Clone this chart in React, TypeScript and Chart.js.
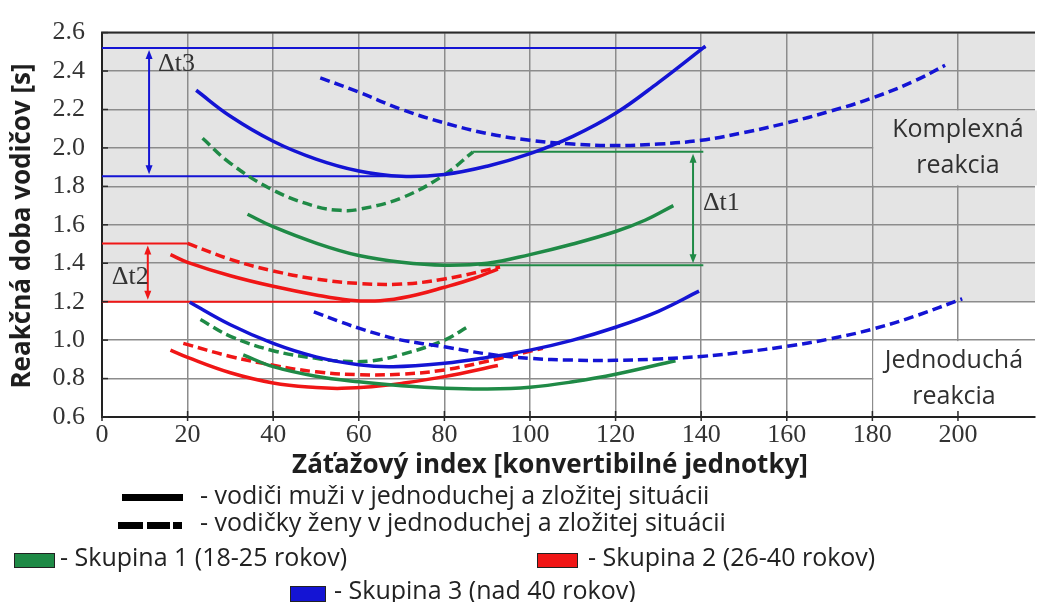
import React, { useEffect, useRef } from "react";
import { Chart, registerables } from "chart.js";

Chart.register(...registerables);

// ---- colours -------------------------------------------------------------
const BLUE = "#1414d4";
const GREEN = "#1f8a46";
const RED = "#f01616";
const BAND_GREY = "#e4e4e4";

// ---- axis ranges / ticks -------------------------------------------------
const X_MIN = 0;
const X_MAX = 218;
const X_STEP = 20;
const Y_MIN = 0.6;
const Y_MAX = 2.6;
const Y_STEP = 0.2;
const SIMPLE_COMPLEX_BOUNDARY = 1.2;

// ---- complex reaction ----------------------------------------------------
const G1_MEN_COMPLEX_X = [34, 40, 50, 60, 70, 80, 90, 100, 110, 120, 127, 133.5];
const G1_MEN_COMPLEX_Y = [1.655, 1.59, 1.505, 1.44, 1.405, 1.39, 1.4, 1.445, 1.5, 1.565, 1.625, 1.7];
const G1_WOMEN_COMPLEX_X = [23.5, 30, 40, 50, 56, 60, 70, 80, 86.7];
const G1_WOMEN_COMPLEX_Y = [2.05, 1.92, 1.78, 1.695, 1.675, 1.68, 1.74, 1.86, 1.98];

const G2_MEN_COMPLEX_X = [16, 20, 30, 40, 50, 58, 65, 72, 80, 87, 92.5];
const G2_MEN_COMPLEX_Y = [1.445, 1.405, 1.335, 1.28, 1.235, 1.208, 1.205, 1.228, 1.275, 1.322, 1.37];
const G2_WOMEN_COMPLEX_X = [20, 30, 40, 50, 60, 70, 80, 93];
const G2_WOMEN_COMPLEX_Y = [1.503, 1.42, 1.36, 1.318, 1.295, 1.292, 1.318, 1.38];

const G3_MEN_COMPLEX_X = [22, 30, 40, 50, 60, 70, 80, 90, 100, 110, 120, 130, 141];
const G3_MEN_COMPLEX_Y = [2.3, 2.165, 2.035, 1.942, 1.88, 1.852, 1.862, 1.905, 1.97, 2.06, 2.18, 2.34, 2.53];
const G3_WOMEN_COMPLEX_X = [51, 60, 70, 80, 90, 100, 110, 120, 130, 140, 150, 160, 170, 180, 190, 197];
const G3_WOMEN_COMPLEX_Y = [2.365, 2.29, 2.2, 2.13, 2.075, 2.04, 2.02, 2.012, 2.02, 2.04, 2.08, 2.13, 2.19, 2.26, 2.35, 2.43];

// ---- simple reaction -----------------------------------------------------
const G1_MEN_SIMPLE_X = [33, 40, 50, 60, 70, 80, 90, 100, 110, 120, 134];
const G1_MEN_SIMPLE_Y = [0.923, 0.862, 0.812, 0.783, 0.763, 0.75, 0.746, 0.755, 0.783, 0.822, 0.893];
const G1_WOMEN_SIMPLE_X = [23, 30, 40, 50, 56, 63, 70, 80, 85.5];
const G1_WOMEN_SIMPLE_Y = [1.107, 1.02, 0.945, 0.905, 0.89, 0.892, 0.925, 1.0, 1.07];

const G2_MEN_SIMPLE_X = [16, 20, 30, 40, 50, 56, 63, 70, 80, 92.5];
const G2_MEN_SIMPLE_Y = [0.948, 0.91, 0.83, 0.777, 0.753, 0.749, 0.757, 0.775, 0.81, 0.868];
const G2_WOMEN_SIMPLE_X = [19, 30, 40, 50, 60, 70, 80, 90, 103];
const G2_WOMEN_SIMPLE_Y = [0.983, 0.915, 0.869, 0.835, 0.82, 0.823, 0.845, 0.89, 0.958];

const G3_MEN_SIMPLE_X = [20.5, 30, 40, 50, 60, 68, 80, 90, 100, 110, 120, 130, 139.5];
const G3_MEN_SIMPLE_Y = [1.197, 1.08, 0.983, 0.913, 0.872, 0.862, 0.88, 0.91, 0.948, 1.0, 1.067, 1.15, 1.255];
const G3_WOMEN_SIMPLE_X = [49.5, 55.6, 60, 65, 70, 80, 90, 100, 110, 120, 130, 140, 150, 160, 170, 180, 190, 201];
const G3_WOMEN_SIMPLE_Y = [1.147, 1.096, 1.062, 1.028, 1.0, 0.965, 0.928, 0.905, 0.896, 0.895, 0.902, 0.915, 0.938, 0.968, 1.006, 1.057, 1.125, 1.215];

// ---- Δt reference lines (x-extent, level) --------------------------------
const DT3_TOP_X = [0, 141];
const DT3_TOP_Y = 2.52;
const DT3_BOTTOM_X = [0, 70];
const DT3_BOTTOM_Y = 1.852;
const DT1_TOP_X = [86.7, 140.5];
const DT1_TOP_Y = 1.98;
const DT1_BOTTOM_X = [88, 140.5];
const DT1_BOTTOM_Y = 1.389;
const DT2_TOP_X = [0, 20];
const DT2_TOP_Y = 1.503;
const DT2_BOTTOM_X = [0, 58];
const DT2_BOTTOM_Y = 1.2;

// double-headed arrows: x position, lower level, upper level
const ARROW_X = [11, 138.1, 10.7];
const ARROW_LOW = [DT3_BOTTOM_Y, DT1_BOTTOM_Y, DT2_BOTTOM_Y];
const ARROW_HIGH = [DT3_TOP_Y, DT1_TOP_Y, DT2_TOP_Y];
const ARROW_COLOR = [BLUE, GREEN, RED];

// Δt captions: text, left x, centre y (data units)
const DT_LABELS = ["Δt3", "Δt1", "Δt2"];
const DT_LABEL_X = [13.1, 140.4, 2.3];
const DT_LABEL_Y = [2.436, 1.712, 1.33];

// ---- texts ---------------------------------------------------------------
const Y_TITLE = "Reakčná doba vodičov [s]";
const X_TITLE = "Záťažový index [konvertibilné jednotky]";
const COMPLEX_CAPTION = ["Komplexná", "reakcia"];
const SIMPLE_CAPTION = ["Jednoduchá", "reakcia"];
const LEGEND_MEN = "- vodiči muži v jednoduchej a zložitej situácii";
const LEGEND_WOMEN = "- vodičky ženy v jednoduchej a zložitej situácii";
const GROUP_LABELS = [
  "- Skupina 1 (18-25 rokov)",
  "- Skupina 2 (26-40 rokov)",
  "- Skupina 3 (nad 40 rokov)",
];
const GROUP_COLORS = [GREEN, RED, BLUE];

const SANS = "'Open Sans', 'Noto Sans', sans-serif";
const SERIF = "'Liberation Serif', 'DejaVu Serif', serif";

function pts(xs: number[], ys: number[]) {
  return xs.map((x, i) => ({ x, y: ys[i] }));
}

function curve(label: string, xs: number[], ys: number[], color: string, dashed: boolean) {
  return {
    label,
    data: pts(xs, ys),
    borderColor: color,
    backgroundColor: color,
    borderWidth: 3.5,
    borderDash: dashed ? [10, 5] : [],
    pointRadius: 0,
    tension: 0.4,
    fill: false,
  };
}

function refLine(label: string, xs: number[], level: number, color: string) {
  return {
    label,
    data: xs.map((x) => ({ x, y: level })),
    borderColor: color,
    backgroundColor: color,
    borderWidth: 2,
    pointRadius: 0,
    tension: 0,
    fill: false,
  };
}

const decorations = {
  id: "decorations",
  beforeDraw(chart: any) {
    const { ctx, chartArea: a, scales } = chart;
    const yb = scales.y.getPixelForValue(SIMPLE_COMPLEX_BOUNDARY);
    ctx.save();
    ctx.fillStyle = "#ffffff";
    ctx.fillRect(0, 0, chart.width, chart.height);
    ctx.fillStyle = BAND_GREY;
    ctx.fillRect(a.left, a.top, a.right - a.left, yb - a.top);
    ctx.restore();
  },
  beforeDatasetsDraw(chart: any) {
    const { ctx, chartArea: a, scales } = chart;
    const { x, y } = scales;
    ctx.save();
    // caption panels sit over the grid
    const left = x.getPixelForValue(180) + 1;
    const cTop = y.getPixelForValue(2.2) + 1;
    const cBot = y.getPixelForValue(1.8) - 1;
    ctx.fillStyle = BAND_GREY;
    ctx.fillRect(left, cTop, a.right - left + 2, cBot - cTop);
    const sTop = y.getPixelForValue(1.0) + 1;
    const sBot = a.bottom - 1;
    ctx.fillStyle = "#ffffff";
    ctx.fillRect(left, sTop, a.right - left + 2, sBot - sTop);

    ctx.fillStyle = "#303030";
    ctx.font = `25px ${SANS}`;
    ctx.textAlign = "center";
    ctx.textBaseline = "middle";
    const cx = x.getPixelForValue(200);
    const cMid = (cTop + cBot) / 2;
    ctx.fillText(COMPLEX_CAPTION[0], cx, cMid - 18);
    ctx.fillText(COMPLEX_CAPTION[1], cx, cMid + 18);
    const sMid = y.getPixelForValue(0.8);
    ctx.fillText(SIMPLE_CAPTION[0], cx - 4, sMid - 18);
    ctx.fillText(SIMPLE_CAPTION[1], cx - 4, sMid + 18);
    ctx.restore();
  },
  afterDatasetsDraw(chart: any) {
    const { ctx, scales } = chart;
    const { x, y } = scales;
    ctx.save();
    ARROW_X.forEach((ax, i) => {
      const px = x.getPixelForValue(ax);
      const top = y.getPixelForValue(ARROW_HIGH[i]) + 2;
      const bot = y.getPixelForValue(ARROW_LOW[i]) - 2;
      ctx.strokeStyle = ARROW_COLOR[i];
      ctx.fillStyle = ARROW_COLOR[i];
      ctx.lineWidth = 2;
      ctx.beginPath();
      ctx.moveTo(px, top + 6);
      ctx.lineTo(px, bot - 6);
      ctx.stroke();
      ctx.beginPath();
      ctx.moveTo(px, top);
      ctx.lineTo(px - 3.5, top + 9);
      ctx.lineTo(px + 3.5, top + 9);
      ctx.closePath();
      ctx.fill();
      ctx.beginPath();
      ctx.moveTo(px, bot);
      ctx.lineTo(px - 3.5, bot - 9);
      ctx.lineTo(px + 3.5, bot - 9);
      ctx.closePath();
      ctx.fill();
    });
    ctx.fillStyle = "#333333";
    ctx.font = `26px ${SERIF}`;
    ctx.textAlign = "left";
    ctx.textBaseline = "middle";
    DT_LABELS.forEach((t, i) => {
      ctx.fillText(t, x.getPixelForValue(DT_LABEL_X[i]), y.getPixelForValue(DT_LABEL_Y[i]));
    });
    ctx.restore();
  },
  afterDraw(chart: any) {
    const { ctx, chartArea: a, scales } = chart;
    const { x, y } = scales;
    ctx.save();
    // frame top
    ctx.strokeStyle = "#2a2a2a";
    ctx.lineWidth = 2;
    ctx.beginPath();
    ctx.moveTo(a.left - 1, a.top);
    ctx.lineTo(a.right, a.top);
    ctx.stroke();
    // inward tick marks
    ctx.lineWidth = 1.5;
    y.ticks.forEach((t: any) => {
      const py = y.getPixelForValue(t.value);
      ctx.beginPath();
      ctx.moveTo(a.left, py);
      ctx.lineTo(a.left + 6, py);
      ctx.stroke();
    });
    x.ticks.forEach((t: any) => {
      const px = x.getPixelForValue(t.value);
      ctx.beginPath();
      ctx.moveTo(px, a.bottom - 6);
      ctx.lineTo(px, a.bottom + 4);
      ctx.stroke();
    });

    // axis titles
    ctx.fillStyle = "#1e1e1e";
    ctx.font = `bold 26px ${SANS}`;
    ctx.textAlign = "center";
    ctx.textBaseline = "middle";
    ctx.fillText(X_TITLE, 550, 466);
    ctx.save();
    ctx.translate(23, 226);
    ctx.rotate(-Math.PI / 2);
    ctx.fillText(Y_TITLE, 0, 0);
    ctx.restore();

    // line-style legend
    ctx.fillStyle = "#000000";
    ctx.fillRect(122, 494, 61, 7);
    ctx.fillRect(118, 522, 25, 7);
    ctx.fillRect(147, 522, 23, 7);
    ctx.fillRect(173, 522, 9, 7);
    ctx.fillStyle = "#222222";
    ctx.font = `25px ${SANS}`;
    ctx.textAlign = "left";
    ctx.fillText(LEGEND_MEN, 200, 497);
    ctx.fillText(LEGEND_WOMEN, 200, 524);

    // group legend
    const boxes = [
      [14, 553, 41, 15, 60, 559],
      [537, 553, 41, 15, 588, 559],
      [290, 586, 36, 16, 334, 592],
    ];
    ctx.font = `25px ${SANS}`;
    boxes.forEach((b, i) => {
      ctx.fillStyle = GROUP_COLORS[i];
      ctx.fillRect(b[0], b[1], b[2], b[3]);
      ctx.strokeStyle = "#222222";
      ctx.lineWidth = 1;
      ctx.strokeRect(b[0] + 0.5, b[1] + 0.5, b[2] - 1, b[3] - 1);
      ctx.fillStyle = "#222222";
      ctx.fillText(GROUP_LABELS[i], b[4], b[5]);
    });
    ctx.restore();
  },
};

export default function App() {
  const canvasRef = useRef<HTMLCanvasElement | null>(null);

  useEffect(() => {
    if (!canvasRef.current) return;
    const datasets: any[] = [
      curve("Skupina 3 muži – komplexná", G3_MEN_COMPLEX_X, G3_MEN_COMPLEX_Y, BLUE, false),
      curve("Skupina 3 ženy – komplexná", G3_WOMEN_COMPLEX_X, G3_WOMEN_COMPLEX_Y, BLUE, true),
      curve("Skupina 1 ženy – komplexná", G1_WOMEN_COMPLEX_X, G1_WOMEN_COMPLEX_Y, GREEN, true),
      curve("Skupina 1 muži – komplexná", G1_MEN_COMPLEX_X, G1_MEN_COMPLEX_Y, GREEN, false),
      curve("Skupina 2 ženy – komplexná", G2_WOMEN_COMPLEX_X, G2_WOMEN_COMPLEX_Y, RED, true),
      curve("Skupina 2 muži – komplexná", G2_MEN_COMPLEX_X, G2_MEN_COMPLEX_Y, RED, false),
      curve("Skupina 3 muži – jednoduchá", G3_MEN_SIMPLE_X, G3_MEN_SIMPLE_Y, BLUE, false),
      curve("Skupina 3 ženy – jednoduchá", G3_WOMEN_SIMPLE_X, G3_WOMEN_SIMPLE_Y, BLUE, true),
      curve("Skupina 1 ženy – jednoduchá", G1_WOMEN_SIMPLE_X, G1_WOMEN_SIMPLE_Y, GREEN, true),
      curve("Skupina 1 muži – jednoduchá", G1_MEN_SIMPLE_X, G1_MEN_SIMPLE_Y, GREEN, false),
      curve("Skupina 2 ženy – jednoduchá", G2_WOMEN_SIMPLE_X, G2_WOMEN_SIMPLE_Y, RED, true),
      curve("Skupina 2 muži – jednoduchá", G2_MEN_SIMPLE_X, G2_MEN_SIMPLE_Y, RED, false),
      refLine("Δt3 horná", DT3_TOP_X, DT3_TOP_Y, BLUE),
      refLine("Δt3 dolná", DT3_BOTTOM_X, DT3_BOTTOM_Y, BLUE),
      refLine("Δt1 horná", DT1_TOP_X, DT1_TOP_Y, GREEN),
      refLine("Δt1 dolná", DT1_BOTTOM_X, DT1_BOTTOM_Y, GREEN),
      refLine("Δt2 horná", DT2_TOP_X, DT2_TOP_Y, RED),
      refLine("Δt2 dolná", DT2_BOTTOM_X, DT2_BOTTOM_Y, RED),
    ];

    const chart = new Chart(canvasRef.current, {
      type: "line",
      data: { datasets },
      plugins: [decorations],
      options: {
        animation: false,
        responsive: false,
        maintainAspectRatio: false,
        events: [],
        layout: { padding: { top: 14, right: 2, left: 0, bottom: 0 } },
        plugins: {
          legend: { display: false },
          tooltip: { enabled: false },
          title: { display: false },
        },
        scales: {
          x: {
            type: "linear",
            min: X_MIN,
            max: X_MAX,
            afterFit: (s: any) => {
              s.height = 185;
            },
            ticks: {
              stepSize: X_STEP,
              includeBounds: false,
              color: "#333333",
              font: { family: SERIF, size: 26 },
              padding: 3,
              maxRotation: 0,
              autoSkip: false,
            },
            grid: { color: "#8c8c8c", lineWidth: 1.5, drawTicks: false },
            border: { display: true, color: "#222222", width: 2 },
          },
          y: {
            type: "linear",
            min: Y_MIN,
            max: Y_MAX,
            afterFit: (s: any) => {
              s.width = 102;
            },
            ticks: {
              stepSize: Y_STEP,
              color: "#333333",
              font: { family: SERIF, size: 26 },
              padding: 17,
              autoSkip: false,
              callback: (v: any) => Number(v).toFixed(1),
            },
            grid: { color: "#8c8c8c", lineWidth: 1.5, drawTicks: false },
            border: { display: true, color: "#222222", width: 2 },
          },
        },
      } as any,
    });
    return () => chart.destroy();
  }, []);

  return (
    <div style={{ position: "absolute", left: 0, top: 0, width: 1037, height: 602, background: "#fff" }}>
      <canvas ref={canvasRef} width={1037} height={602} style={{ display: "block" }} />
    </div>
  );
}
